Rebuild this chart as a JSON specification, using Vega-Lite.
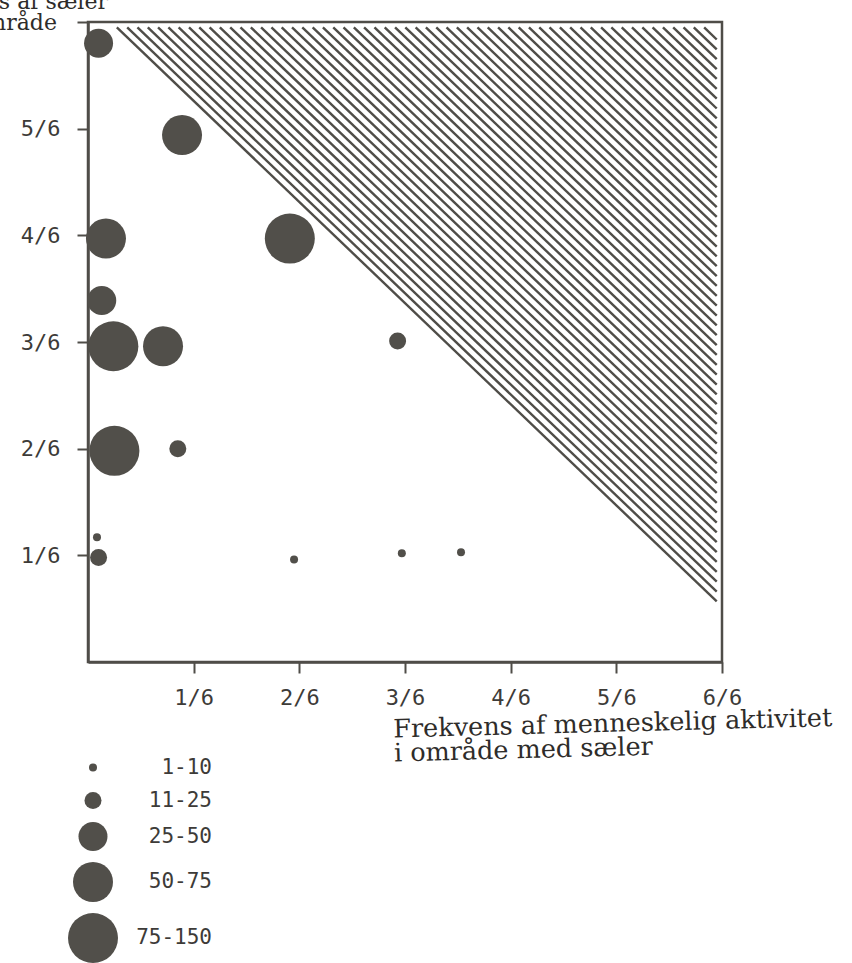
{
  "$schema": "https://vega.github.io/schema/vega-lite/v6.json",
  "width": 634,
  "height": 640,
  "autosize": {"type": "none"},
  "padding": {"left": 88, "top": 22, "right": 130, "bottom": 301},
  "background": "white",
  "config": {
    "view": {"stroke": "#4f4d48", "strokeWidth": 2.5},
    "axis": {
      "domainColor": "#4f4d48",
      "domainWidth": 2.5,
      "tickColor": "#4f4d48",
      "tickWidth": 2,
      "tickSize": 11,
      "labelFont": "DejaVu Sans Mono",
      "labelFontSize": 22,
      "labelColor": "#3d3b38",
      "titleFont": "DejaVu Serif",
      "titleFontWeight": "normal",
      "titleColor": "#2e2c2a",
      "grid": false
    }
  },
  "datasets": {
    "skravering": [
      {"x": 0.273, "y": 5.95, "x2": 5.95, "y2": 0.568},
      {"x": 0.371, "y": 5.95, "x2": 5.95, "y2": 0.660},
      {"x": 0.468, "y": 5.95, "x2": 5.95, "y2": 0.753},
      {"x": 0.566, "y": 5.95, "x2": 5.95, "y2": 0.845},
      {"x": 0.663, "y": 5.95, "x2": 5.95, "y2": 0.938},
      {"x": 0.761, "y": 5.95, "x2": 5.95, "y2": 1.030},
      {"x": 0.858, "y": 5.95, "x2": 5.95, "y2": 1.123},
      {"x": 0.956, "y": 5.95, "x2": 5.95, "y2": 1.215},
      {"x": 1.053, "y": 5.95, "x2": 5.95, "y2": 1.307},
      {"x": 1.151, "y": 5.95, "x2": 5.95, "y2": 1.400},
      {"x": 1.248, "y": 5.95, "x2": 5.95, "y2": 1.492},
      {"x": 1.346, "y": 5.95, "x2": 5.95, "y2": 1.585},
      {"x": 1.443, "y": 5.95, "x2": 5.95, "y2": 1.677},
      {"x": 1.541, "y": 5.95, "x2": 5.95, "y2": 1.770},
      {"x": 1.638, "y": 5.95, "x2": 5.95, "y2": 1.862},
      {"x": 1.736, "y": 5.95, "x2": 5.95, "y2": 1.954},
      {"x": 1.833, "y": 5.95, "x2": 5.95, "y2": 2.047},
      {"x": 1.931, "y": 5.95, "x2": 5.95, "y2": 2.139},
      {"x": 2.028, "y": 5.95, "x2": 5.95, "y2": 2.232},
      {"x": 2.126, "y": 5.95, "x2": 5.95, "y2": 2.324},
      {"x": 2.223, "y": 5.95, "x2": 5.95, "y2": 2.417},
      {"x": 2.321, "y": 5.95, "x2": 5.95, "y2": 2.509},
      {"x": 2.418, "y": 5.95, "x2": 5.95, "y2": 2.601},
      {"x": 2.516, "y": 5.95, "x2": 5.95, "y2": 2.694},
      {"x": 2.613, "y": 5.95, "x2": 5.95, "y2": 2.786},
      {"x": 2.711, "y": 5.95, "x2": 5.95, "y2": 2.879},
      {"x": 2.808, "y": 5.95, "x2": 5.95, "y2": 2.971},
      {"x": 2.906, "y": 5.95, "x2": 5.95, "y2": 3.064},
      {"x": 3.003, "y": 5.95, "x2": 5.95, "y2": 3.156},
      {"x": 3.101, "y": 5.95, "x2": 5.95, "y2": 3.248},
      {"x": 3.198, "y": 5.95, "x2": 5.95, "y2": 3.341},
      {"x": 3.296, "y": 5.95, "x2": 5.95, "y2": 3.433},
      {"x": 3.393, "y": 5.95, "x2": 5.95, "y2": 3.526},
      {"x": 3.491, "y": 5.95, "x2": 5.95, "y2": 3.618},
      {"x": 3.588, "y": 5.95, "x2": 5.95, "y2": 3.711},
      {"x": 3.686, "y": 5.95, "x2": 5.95, "y2": 3.803},
      {"x": 3.783, "y": 5.95, "x2": 5.95, "y2": 3.895},
      {"x": 3.881, "y": 5.95, "x2": 5.95, "y2": 3.988},
      {"x": 3.978, "y": 5.95, "x2": 5.95, "y2": 4.080},
      {"x": 4.076, "y": 5.95, "x2": 5.95, "y2": 4.173},
      {"x": 4.173, "y": 5.95, "x2": 5.95, "y2": 4.265},
      {"x": 4.271, "y": 5.95, "x2": 5.95, "y2": 4.358},
      {"x": 4.368, "y": 5.95, "x2": 5.95, "y2": 4.450},
      {"x": 4.466, "y": 5.95, "x2": 5.95, "y2": 4.542},
      {"x": 4.563, "y": 5.95, "x2": 5.95, "y2": 4.635},
      {"x": 4.661, "y": 5.95, "x2": 5.95, "y2": 4.727},
      {"x": 4.758, "y": 5.95, "x2": 5.95, "y2": 4.820},
      {"x": 4.856, "y": 5.95, "x2": 5.95, "y2": 4.912},
      {"x": 4.953, "y": 5.95, "x2": 5.95, "y2": 5.005},
      {"x": 5.051, "y": 5.95, "x2": 5.95, "y2": 5.097},
      {"x": 5.148, "y": 5.95, "x2": 5.95, "y2": 5.189},
      {"x": 5.246, "y": 5.95, "x2": 5.95, "y2": 5.282},
      {"x": 5.343, "y": 5.95, "x2": 5.95, "y2": 5.374},
      {"x": 5.441, "y": 5.95, "x2": 5.95, "y2": 5.467},
      {"x": 5.538, "y": 5.95, "x2": 5.95, "y2": 5.559},
      {"x": 5.636, "y": 5.95, "x2": 5.95, "y2": 5.652},
      {"x": 5.733, "y": 5.95, "x2": 5.95, "y2": 5.744},
      {"x": 5.831, "y": 5.95, "x2": 5.95, "y2": 5.836}
    ],
    "punkter": [
      {"x": 0.10, "y": 5.80, "klasse": "25-50"},
      {"x": 0.89, "y": 4.94, "klasse": "50-75"},
      {"x": 1.91, "y": 3.97, "klasse": "75-150"},
      {"x": 0.17, "y": 3.97, "klasse": "50-75"},
      {"x": 0.13, "y": 3.39, "klasse": "25-50"},
      {"x": 0.24, "y": 2.96, "klasse": "75-150"},
      {"x": 0.71, "y": 2.96, "klasse": "50-75"},
      {"x": 2.93, "y": 3.01, "klasse": "11-25"},
      {"x": 0.25, "y": 1.98, "klasse": "75-150"},
      {"x": 0.85, "y": 2.00, "klasse": "11-25"},
      {"x": 0.085, "y": 1.17, "klasse": "1-10"},
      {"x": 0.10, "y": 0.98, "klasse": "11-25"},
      {"x": 1.95, "y": 0.96, "klasse": "1-10"},
      {"x": 2.97, "y": 1.02, "klasse": "1-10"},
      {"x": 3.53, "y": 1.03, "klasse": "1-10"}
    ]
  },
  "encoding": {
    "x": {
      "field": "x",
      "type": "quantitative",
      "scale": {"domain": [0, 6], "nice": false, "zero": false},
      "axis": {
        "values": [1, 2, 3, 4, 5, 6],
        "labelExpr": "datum.value + '/6'",
        "labelPadding": 14,
        "labelFlush": false,
        "labelOverlap": false,
        "title": ["Frekvens af menneskelig aktivitet", "i område med sæler"],
        "titleAlign": "left",
        "titleAnchor": "start",
        "titleX": 305,
        "titleY": 75,
        "titleAngle": -1.5,
        "titleBaseline": "alphabetic",
        "titleFontSize": 25.5,
        "titleLineHeight": 24
      }
    },
    "y": {
      "field": "y",
      "type": "quantitative",
      "scale": {"domain": [0, 6], "nice": false, "zero": false},
      "axis": {
        "values": [1, 2, 3, 4, 5, 6],
        "labelExpr": "datum.value < 6 ? datum.value + '/6' : ''",
        "labelPadding": 17,
        "labelFlush": false,
        "labelOverlap": false,
        "title": ["Frekvens af sæler", "i område"],
        "titleAngle": 0,
        "titleAlign": "center",
        "titleX": -81,
        "titleY": -14,
        "titleBaseline": "alphabetic",
        "titleFontSize": 22,
        "titleLineHeight": 21
      }
    }
  },
  "layer": [
    {
      "data": {"name": "skravering"},
      "mark": {"type": "rule", "color": "#4f4d48", "strokeWidth": 2.4},
      "encoding": {
        "x2": {"field": "x2"},
        "y2": {"field": "y2"}
      }
    },
    {
      "data": {"name": "punkter"},
      "mark": {"type": "circle", "opacity": 1, "color": "#514f4a", "strokeWidth": 0},
      "encoding": {
        "size": {
          "field": "klasse",
          "type": "nominal",
          "scale": {
            "type": "ordinal",
            "domain": ["1-10", "11-25", "25-50", "50-75", "75-150"],
            "range": [64, 289, 841, 1600, 2500]
          },
          "legend": {
            "orient": "none",
            "legendX": -20,
            "legendY": 735,
            "title": null,
            "padding": 0,
            "labelAlign": "right",
            "labelOffset": 94,
            "labelFont": "DejaVu Sans Mono",
            "labelFontSize": 21,
            "labelColor": "#3d3b38",
            "rowPadding": 11,
            "symbolType": "circle",
            "symbolFillColor": "#514f4a",
            "symbolStrokeWidth": 0,
            "symbolOpacity": 1
          }
        }
      }
    }
  ]
}
